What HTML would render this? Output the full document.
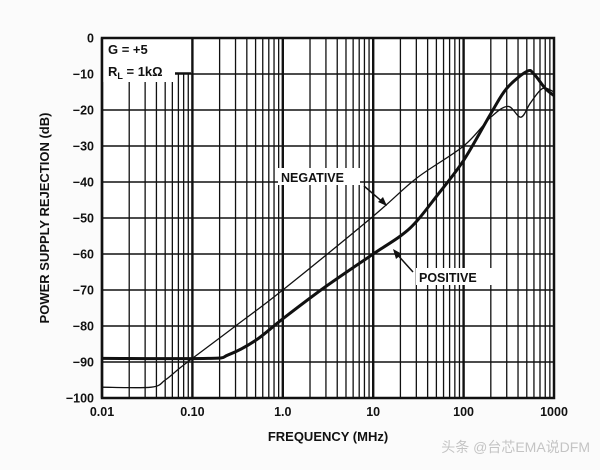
<!DOCTYPE html>
<html><head><meta charset="utf-8"><style>
html,body{margin:0;padding:0;background:#fff;}
svg text{font-family:"Liberation Sans","Noto Sans CJK SC",sans-serif;fill:#111;}
</style></head><body>
<svg id="s" width="600" height="470" xmlns="http://www.w3.org/2000/svg">
<rect width="600" height="470" fill="#fbfbfb"/>
<rect x="102" y="38" width="452" height="360" fill="#fff"/>
<g id="grid" stroke="#111"></g>
<rect x="103" y="39" width="72" height="43" fill="#fff"/>
<rect x="175" y="39" width="16" height="34" fill="#fff"/>
<line x1="175" y1="73" x2="191" y2="73" stroke="#111" stroke-width="1.5"/>
<rect x="102" y="38" width="452" height="360" fill="none" stroke="#111" stroke-width="2.5"/>
<path id="pos" fill="none" stroke="#111" stroke-width="3" stroke-linejoin="round"/>
<path id="neg" fill="none" stroke="#111" stroke-width="1.3" stroke-linejoin="round"/>
<g font-size="12.5" font-weight="bold" text-anchor="end" id="yl"></g>
<g font-size="12.5" font-weight="bold" text-anchor="middle" id="xl"></g>
<text x="108" y="54" font-size="13" font-weight="bold">G = +5</text>
<text x="108" y="76" font-size="13" font-weight="bold">R<tspan font-size="9" dy="3">L</tspan><tspan dy="-3"> = 1kΩ</tspan></text>
<text x="328" y="441" font-size="13" font-weight="bold" text-anchor="middle">FREQUENCY (MHz)</text>
<text transform="translate(49,218) rotate(-90)" font-size="13" font-weight="bold" text-anchor="middle">POWER SUPPLY REJECTION (dB)</text>
<rect x="278" y="168" width="82" height="17" fill="#fff"/>
<text x="281" y="182" font-size="12.5" font-weight="bold">NEGATIVE</text>
<line x1="364" y1="186" x2="385" y2="204" stroke="#111" stroke-width="1.5"/>
<polygon points="387,206 378,202 383,197" fill="#111"/>
<rect x="416" y="268" width="78" height="17" fill="#fff"/>
<text x="419" y="282" font-size="12.5" font-weight="bold">POSITIVE</text>
<line x1="413" y1="272" x2="395" y2="252" stroke="#111" stroke-width="1.5"/>
<polygon points="393,249 402,254 396,259" fill="#111"/>
<text x="590" y="452" font-size="14" text-anchor="end" style="fill:#c4c4c4">头条 @台芯EMA说DFM</text>
</svg>
<script>
var X=function(f){return 102+(Math.log10(f)+2)*90.4;},Y=function(d){return 38-d*3.6;};
var g=document.getElementById('grid'),h='';
for(var e=-2;e<3;e++)for(var m=1;m<10;m++){var x=X(m*Math.pow(10,e));h+='<line x1="'+x+'" y1="38" x2="'+x+'" y2="398" stroke-width="'+(m==1?2.4:1.3)+'"/>';}
for(var d=-10;d>-100;d-=10)h+='<line x1="102" y1="'+Y(d)+'" x2="554" y2="'+Y(d)+'" stroke-width="1.6"/>';
g.innerHTML=h;
var yl='';for(var d=0;d>=-100;d-=10)yl+='<text x="94" y="'+(Y(d)+4.5)+'">'+(d==0?'0':'−'+(-d))+'</text>';
document.getElementById('yl').innerHTML=yl;
var xs=['0.01','0.10','1.0','10','100','1000'],xl='';
for(var i=0;i<6;i++)xl+='<text x="'+(102+i*90.4)+'" y="416">'+xs[i]+'</text>';
document.getElementById('xl').innerHTML=xl;
function path(pts){var p=pts.map(function(a){return[X(a[0]),Y(a[1])]});
var s='M'+p[0][0]+','+p[0][1];
for(var i=0;i<p.length-1;i++){var p0=p[i-1]||p[i],p1=p[i],p2=p[i+1],p3=p[i+2]||p2;
s+=' C'+(p1[0]+(p2[0]-p0[0])/6)+','+(p1[1]+(p2[1]-p0[1])/6)+' '+(p2[0]-(p3[0]-p1[0])/6)+','+(p2[1]-(p3[1]-p1[1])/6)+' '+p2[0]+','+p2[1];}
return s;}
document.getElementById('pos').setAttribute('d',path([[0.01,-89],[0.15,-89],[0.25,-88],[0.5,-84],[1,-78],[3,-69],[10,-60],[20,-55],[30,-51],[50,-44],[100,-34],[200,-21],[300,-14],[500,-9.3],[600,-10],[800,-14],[1000,-16]]));
document.getElementById('neg').setAttribute('d',path([[0.01,-97],[0.035,-97],[0.05,-95],[0.07,-92],[0.1,-89],[0.3,-80],[1,-70],[10,-49.5],[30,-39],[100,-30],[200,-22],[310,-19],[430,-22],[550,-18],[750,-14],[1000,-15]]));
</script>
</body></html>
